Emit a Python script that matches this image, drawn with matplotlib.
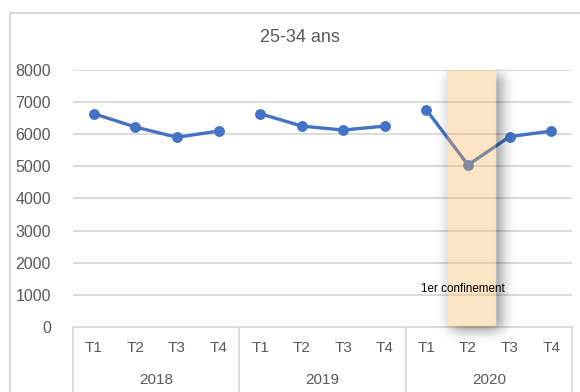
import math

import numpy as np
import matplotlib.pyplot as plt
from matplotlib.lines import Line2D
from matplotlib.patches import Rectangle
from matplotlib import font_manager

# quarterly figures, 25-34 age group
years = ["2018", "2019", "2020"]
quarters = ["T1", "T2", "T3", "T4"]
values = {
    "2018": [6640, 6225, 5905, 6100],
    "2019": [6640, 6255, 6130, 6255],
    "2020": [6755, 5045, 5925, 6100],
}
lockdown_label = "1er confinement"

BLUE = "#4472C4"
GRID = "#D9D9D9"
TXT = "#595959"

installed = {f.name for f in font_manager.fontManager.ttflist}
narrow = ["Liberation Sans Narrow"] if "Liberation Sans Narrow" in installed else []
plt.rcParams["font.family"] = ["Liberation Sans", "DejaVu Sans"]

fig = plt.figure(figsize=(5.8, 3.92), dpi=100)
ax = fig.add_axes([73 / 580, 1 - 327 / 392, (572 - 73) / 580, (327 - 70) / 392])

nq = len(quarters)
for i, yr in enumerate(years):
    xs = [i * nq + k for k in range(nq)]
    ax.plot(xs, values[yr], color=BLUE, lw=2.4, marker="o", ms=6.8,
            solid_capstyle="round", zorder=3)

for v in range(1000, 8001, 1000):
    ax.axhline(v, color=GRID, lw=1.3, zorder=1)

# lockdown band with a blurred drop shadow (offset right/down)
x0, x1 = 8.49, 9.67
erf = np.vectorize(math.erf)


def soft_box(v, lo, hi, s):
    return 0.5 * (erf((v - lo) / (s * math.sqrt(2))) - erf((v - hi) / (s * math.sqrt(2))))


xa, xb, ya, yb = x0 - 0.4, x1 + 1.0, -700, 8000
gx = np.linspace(xa, xb, 240)
gy = np.linspace(ya, yb, 400)
X, Y = np.meshgrid(gx, gy)
alpha = 0.45 * soft_box(X, x0 + 0.1, x1 + 0.12, 0.17) * soft_box(Y, -120, 7850, 190)
alpha[(X >= x0) & (X <= x1) & (Y >= 0)] = 0
shadow = np.zeros(X.shape + (4,))
shadow[..., 3] = alpha
ax.imshow(shadow, extent=(xa, xb, ya, yb), origin="lower", aspect="auto",
          interpolation="bilinear", zorder=4, clip_on=False)

ax.add_patch(Rectangle((x0, 0), x1 - x0, 8000, facecolor=(0.965, 0.71, 0.35),
                       alpha=0.35, lw=0, zorder=5))
ax.text(8.87, 1180, lockdown_label, ha="center", va="center",
        fontsize=10 if narrow else 8.4, color="black", zorder=6,
        family=narrow + ["Liberation Sans", "DejaVu Sans"])

ax.set_xlim(-0.5, len(years) * nq - 0.5)
ax.set_ylim(0, 8000)
ax.set_yticks(range(0, 8001, 1000))
ax.set_yticklabels([str(v) for v in range(0, 8001, 1000)])
ax.tick_params(axis="y", length=0, pad=16, labelsize=11.5, labelcolor=TXT)
ax.set_xticks([])
for s in ax.spines.values():
    s.set_visible(False)

# two-level category axis
bot = -(392 - 327) / 257
trans = ax.get_xaxis_transform()
ax.add_line(Line2D([-0.5, len(years) * nq - 0.5], [0, 0], transform=trans,
                   color=GRID, lw=1.3, clip_on=False, zorder=2))
for i in range(len(years) + 1):
    ax.add_line(Line2D([i * nq - 0.5] * 2, [0, bot], transform=trans,
                       color=GRID, lw=1.3, clip_on=False))
for i, yr in enumerate(years):
    for k, q in enumerate(quarters):
        ax.text(i * nq + k, -0.082, q, transform=trans, ha="center",
                va="center", fontsize=11, color=TXT)
    ax.text(i * nq + 1.5, -0.205, yr, transform=trans, ha="center",
            va="center", fontsize=11, color=TXT)

fig.text(300 / 580, 1 - 37 / 392, "25-34 ans", ha="center", va="center",
         fontsize=13, color=TXT)

# chart frame (only top and left edges are visible)
fig.add_artist(Line2D([10 / 580, 1.01], [1 - 13 / 392] * 2, color=GRID, lw=1.5))
fig.add_artist(Line2D([10 / 580] * 2, [1 - 13 / 392, -0.01], color=GRID, lw=1.5))

fig.savefig("out.png", dpi=100)
